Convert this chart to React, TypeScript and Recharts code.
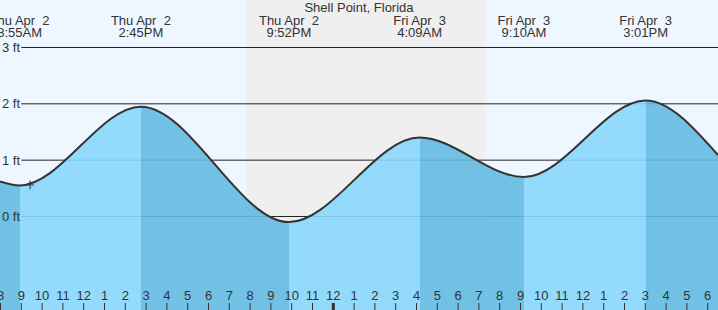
import React from 'react';
import {
  ComposedChart,
  Area,
  XAxis,
  YAxis,
  ReferenceArea,
  ReferenceLine,
  ReferenceDot,
} from 'recharts';

// ---- data (hours counted from Thu Apr 2, 00:00) ----
const TITLE = 'Shell Point, Florida';
const X_START = 7.976;
const X_END = 42.495;
const Y_MIN = -1.66;
const Y_MAX = 3.843;

const curveHours = [7.976, 8.917, 14.75, 21.867, 28.15, 33.167, 39.017, 42.495];
const curveFeet = [0.62, 0.55, 1.95, -0.1, 1.4, 0.7, 2.06, 1.09];

const extremeHours = [8.917, 14.75, 21.867, 28.15, 33.167, 39.017];
const extremeKinds = ['L', 'H', 'L', 'H', 'L', 'H'];
const extremeDays = [
  'Thu Apr\u00A0\u00A02',
  'Thu Apr\u00A0\u00A02',
  'Thu Apr\u00A0\u00A02',
  'Fri Apr\u00A0\u00A03',
  'Fri Apr\u00A0\u00A03',
  'Fri Apr\u00A0\u00A03',
];
const extremeTimes = ['8:55AM', '2:45PM', '9:52PM', '4:09AM', '9:10AM', '3:01PM'];

const nightStarts = [19.8];
const nightEnds = [31.28];

const feetTicks = [0, 1, 2, 3];
const gridStartHour = 9;
const hourTicks = [
  8, 9, 10, 11, 12, 13, 14, 15, 16, 17, 18, 19, 20, 21, 22, 23, 24,
  25, 26, 27, 28, 29, 30, 31, 32, 33, 34, 35, 36, 37, 38, 39, 40, 41, 42,
];

const nowHour = 9.42;
const nowFeet = 0.56;

// ---- styles ----
const FONT = '"Liberation Sans", Arial, Helvetica, sans-serif';
const TEXT = '#333333';
const DAY_BG = '#EEF7FF';
const NIGHT_BG = '#EFEFEF';
const RISING = '#89D7FC';
const FALLING = '#64BBE3';

const W = 718;
const H = 310;
const MARGIN = { top: 0, right: 0, bottom: 0, left: 0 };

const data = curveHours.map((h, i) => ({ h, ft: curveFeet[i] }));

const span = X_END - X_START;
const stops: { offset: number; color: string }[] = [];
{
  let color = extremeKinds[0] === 'L' ? FALLING : RISING;
  stops.push({ offset: 0, color });
  extremeHours.forEach((eh, i) => {
    const off = (eh - X_START) / span;
    stops.push({ offset: off, color });
    color = extremeKinds[i] === 'L' ? RISING : FALLING;
    stops.push({ offset: off, color });
  });
  stops.push({ offset: 1, color });
}

const HourTick = (props: any) => {
  const { x, payload } = props;
  const h: number = payload.value;
  const r = h % 12;
  const label = r === 0 ? 12 : r;
  const midnight = h % 24 === 0;
  return (
    <g>
      <text x={x} y={300} textAnchor="middle" fill={TEXT} fontSize={13} fontFamily={FONT}>
        {label}
      </text>
      <line x1={x} x2={x} y1={303} y2={H} stroke={TEXT} strokeWidth={midnight ? 3 : 1} />
    </g>
  );
};

const ExtremeTick = (props: any) => {
  const { x, payload } = props;
  const i = extremeHours.indexOf(payload.value);
  if (i < 0) return null;
  return (
    <text x={x} textAnchor="middle" fill={TEXT} fontSize={13} fontFamily={FONT}>
      <tspan x={x} y={25}>{extremeDays[i]}</tspan>
      <tspan x={x} y={37}>{extremeTimes[i]}</tspan>
    </text>
  );
};

const FeetTick = (props: any) => {
  const { y, payload } = props;
  return (
    <text x={20} y={y + 4.6} textAnchor="end" fill={TEXT} fontSize={13} fontFamily={FONT}>
      {`${payload.value} ft`}
    </text>
  );
};

const NowMark = (props: any) => {
  const { cx, cy } = props;
  if (cx == null || cy == null) return null;
  return (
    <path
      d={`M${cx - 4},${cy} H${cx + 4} M${cx},${cy - 4.5} V${cy + 4.5}`}
      stroke={TEXT}
      strokeWidth={1}
      fill="none"
    />
  );
};

const layer: React.CSSProperties = { position: 'absolute', left: 0, top: 0 };

export default function App() {
  return (
    <div
      style={{
        position: 'absolute',
        left: 0,
        top: 0,
        width: W,
        height: H,
        background: DAY_BG,
        overflow: 'hidden',
        fontFamily: FONT,
      }}
    >
      {/* background layer: night shading and grid lines */}
      <div style={layer}>
        <ComposedChart width={W} height={H} data={data} margin={MARGIN}>
          <XAxis
            dataKey="h"
            type="number"
            scale="linear"
            domain={[X_START, X_END]}
            allowDataOverflow
            hide
          />
          <YAxis type="number" domain={[Y_MIN, Y_MAX]} allowDataOverflow hide />
          {nightStarts.map((s, i) => (
            <ReferenceArea
              key={`n${i}`}
              x1={s}
              x2={nightEnds[i]}
              y1={Y_MIN}
              y2={Y_MAX}
              fill={NIGHT_BG}
              fillOpacity={1}
              stroke="none"
            />
          ))}
          {feetTicks.map((v) => (
            <ReferenceLine
              key={`g${v}`}
              segment={[
                { x: gridStartHour, y: v },
                { x: X_END, y: v },
              ]}
              stroke="#222222"
              strokeWidth={1}
            />
          ))}
        </ComposedChart>
      </div>
      {/* foreground layer: tide curve, axes, labels */}
      <div style={layer}>
        <ComposedChart width={W} height={H} data={data} margin={MARGIN}>
          <defs>
            <linearGradient id="tideFill" x1="0" y1="0" x2="1" y2="0">
              {stops.map((s, i) => (
                <stop key={i} offset={s.offset} stopColor={s.color} />
              ))}
            </linearGradient>
          </defs>
          <XAxis
            dataKey="h"
            type="number"
            scale="linear"
            domain={[X_START, X_END]}
            allowDataOverflow
            orientation="bottom"
            mirror
            ticks={hourTicks}
            interval={0}
            tick={<HourTick />}
            axisLine={false}
            tickLine={false}
          />
          <XAxis
            xAxisId="top"
            dataKey="h"
            type="number"
            scale="linear"
            domain={[X_START, X_END]}
            allowDataOverflow
            orientation="top"
            mirror
            ticks={extremeHours}
            interval={0}
            tick={<ExtremeTick />}
            axisLine={false}
            tickLine={false}
          />
          <YAxis
            type="number"
            domain={[Y_MIN, Y_MAX]}
            allowDataOverflow
            orientation="left"
            mirror
            ticks={feetTicks}
            interval={0}
            tick={<FeetTick />}
            axisLine={false}
            tickLine={false}
          />
          <Area
            type="monotone"
            dataKey="ft"
            baseValue="dataMin"
            stroke="#333333"
            strokeWidth={2}
            fill="url(#tideFill)"
            fillOpacity={0.9}
            dot={false}
            activeDot={false}
            isAnimationActive={false}
          />
          <ReferenceDot x={nowHour} y={nowFeet} r={4} shape={<NowMark />} />
        </ComposedChart>
      </div>
      <div
        style={{
          position: 'absolute',
          left: 0,
          top: 0,
          width: W,
          height: 15,
          lineHeight: '15px',
          textAlign: 'center',
          fontSize: 13,
          color: TEXT,
          fontFamily: FONT,
          pointerEvents: 'none',
        }}
      >
        {TITLE}
      </div>
    </div>
  );
}
